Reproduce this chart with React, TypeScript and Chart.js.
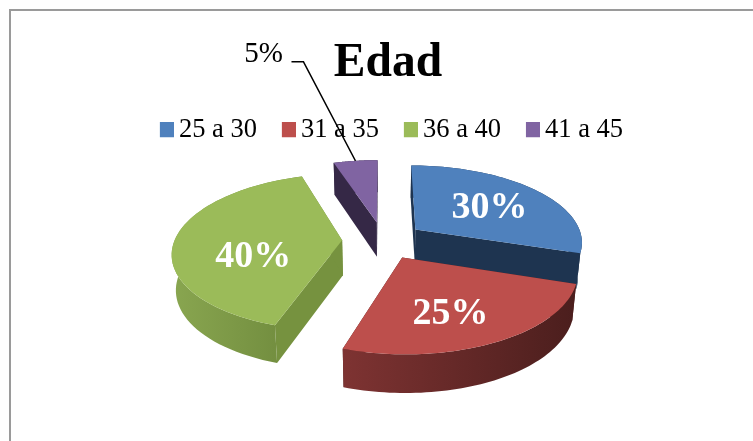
import React, { useEffect, useRef } from "react";
import { Chart, registerables } from "chart.js";

Chart.register(...registerables);

const categories = ["25 a 30", "31 a 35", "36 a 40", "41 a 45"];
const percentages = [30, 25, 40, 5];
const chartTitle = "Edad";

const topColors = ["#4f81bd", "#bd4f4c", "#9bbb59", "#8064a2"];
const faceColors = ["#1e3450", "#4e1f1e", "#76923f", "#352846"];
const wallEdgeColors = [
  ["#1e3450", "#1e3450"],
  ["#7e3332", "#4b1e1d"],
  ["#89a650", "#6e893c"],
  ["#352846", "#352846"],
];
const drawOrder = [3, 0, 2, 1];
const labelRadius = [0.6, 0.55, 0.53, 0];
const labelDrop = [3, 13, 17, 0];

const SERIF = '"Liberation Serif", "Times New Roman", serif';
const EXPLODE = 0.244;
const SQUASH_X = 168 / 87;
const SQUASH_Y = 76.8 / 87;
const PERSPECTIVE = 0.15;
const DEPTH = 35;
const SHIFT_X = -8.5;

function legendSwatch(color: string) {
  const c = document.createElement("canvas");
  c.width = 22;
  c.height = 16;
  const g = c.getContext("2d")!;
  g.fillStyle = color;
  g.fillRect(8, 0, 14, 15);
  return c;
}

const pie3d = {
  id: "pie3d",
  afterLayout(chart: any) {
    chart.titleBlock.left -= 3.5;
    chart.titleBlock.right -= 3.5;
  },
  beforeDatasetDraw(chart: any) {
    const ctx: CanvasRenderingContext2D = chart.ctx;
    const arcs = chart.getDatasetMeta(0).data;
    if (!arcs.length) return false;
    const R = arcs[0].outerRadius;
    const cx = arcs[0].x + SHIFT_X;
    const cy = arcs[0].y;
    const ax = R * SQUASH_X;
    const by = R * SQUASH_Y;

    const proj = (u: number, v: number, z: number) => {
      const w = 1 - PERSPECTIVE * v;
      return [
        cx + ((ax * u) / w) * (1 - 0.02 * z),
        cy + (by * v) / w + (z * DEPTH) / Math.sqrt(w),
      ];
    };

    const poly = (pts: number[][], fill: any) => {
      ctx.beginPath();
      pts.forEach((p, i) => (i ? ctx.lineTo(p[0], p[1]) : ctx.moveTo(p[0], p[1])));
      ctx.closePath();
      ctx.fillStyle = fill;
      ctx.fill();
    };

    drawOrder.forEach((i) => {
      const arc = arcs[i];
      const t0 = arc.startAngle + Math.PI / 2;
      const t1 = arc.endAngle + Math.PI / 2;
      const tm = (t0 + t1) / 2;
      const ou = EXPLODE * Math.sin(tm);
      const ov = -EXPLODE * Math.cos(tm);
      const at = (t: number, z: number) => proj(ou + Math.sin(t), ov - Math.cos(t), z);
      const apex = (z: number) => proj(ou, ov, z);
      const steps = 60;
      const ang = (k: number) => t0 + ((t1 - t0) * k) / steps;

      poly([apex(0), at(t0, 0), at(t0, 1), apex(1)], faceColors[i]);
      poly([apex(0), at(t1, 0), at(t1, 1), apex(1)], faceColors[i]);

      const wall: number[][] = [];
      for (let k = 0; k <= steps; k++) wall.push(at(ang(k), 0));
      for (let k = steps; k >= 0; k--) wall.push(at(ang(k), 1));
      const xs = wall.map((p) => p[0]);
      const gr = ctx.createLinearGradient(Math.min(...xs), 0, Math.max(...xs), 0);
      gr.addColorStop(0, wallEdgeColors[i][0]);
      gr.addColorStop(1, wallEdgeColors[i][1]);
      poly(wall, gr);

      const top: number[][] = [apex(0)];
      for (let k = 0; k <= steps; k++) top.push(at(ang(k), 0));
      poly(top, topColors[i]);
    });

    ctx.save();
    ctx.fillStyle = "#ffffff";
    ctx.font = `bold 38px ${SERIF}`;
    ctx.textAlign = "center";
    ctx.textBaseline = "middle";
    arcs.forEach((arc: any, i: number) => {
      if (!labelRadius[i]) return;
      const tm = (arc.startAngle + arc.endAngle) / 2 + Math.PI / 2;
      const r = EXPLODE + labelRadius[i];
      const p = proj(r * Math.sin(tm), -r * Math.cos(tm), 0);
      ctx.fillText(`${percentages[i]}%`, p[0], p[1] + labelDrop[i]);
    });

    // leader for the small slice, running from its outer rim to its label
    const small = arcs[3];
    const tm = (small.startAngle + small.endAngle) / 2 + Math.PI / 2;
    const r = EXPLODE + 1;
    const rim = proj(r * Math.sin(tm), -r * Math.cos(tm), 0);
    const elbowX = rim[0] - 52;
    const elbowY = rim[1] - 99;
    ctx.strokeStyle = "#000000";
    ctx.lineWidth = 1.4;
    ctx.beginPath();
    ctx.moveTo(rim[0], rim[1]);
    ctx.lineTo(elbowX, elbowY);
    ctx.lineTo(elbowX - 12, elbowY);
    ctx.stroke();
    ctx.fillStyle = "#000000";
    ctx.font = `29px ${SERIF}`;
    ctx.fillText(`${percentages[3]}%`, elbowX - 40, elbowY - 7);
    ctx.restore();
    return false;
  },
};

const frame = {
  id: "frame",
  beforeDraw(chart: any) {
    const { ctx, width, height } = chart;
    ctx.save();
    ctx.strokeStyle = "#9a9a9a";
    ctx.lineWidth = 2;
    ctx.beginPath();
    ctx.moveTo(10, height);
    ctx.lineTo(10, 10);
    ctx.lineTo(width, 10);
    ctx.stroke();
    ctx.restore();
  },
};

export default function App() {
  const ref = useRef<HTMLCanvasElement>(null);
  useEffect(() => {
    document.body.style.margin = "0";
    const chart = new Chart(ref.current!, {
      type: "pie",
      data: {
        labels: categories,
        datasets: [{ data: percentages, backgroundColor: topColors, borderWidth: 0 }],
      },
      options: {
        responsive: false,
        animation: false,
        layout: { padding: { left: 30, top: 30, bottom: 114 } },
        plugins: {
          tooltip: { enabled: false },
          title: {
            display: true,
            text: chartTitle,
            color: "#000000",
            font: { family: SERIF, size: 47.5, weight: "bold" },
            padding: { top: 5, bottom: 0 },
          },
          legend: {
            position: "top",
            labels: {
              color: "#000000",
              font: { family: SERIF, size: 26.5 },
              usePointStyle: true,
              pointStyleWidth: 5.75,
              padding: 25,
              generateLabels: () =>
                categories.map((text, i) => ({
                  text,
                  index: i,
                  datasetIndex: 0,
                  fillStyle: topColors[i],
                  strokeStyle: topColors[i],
                  lineWidth: 0,
                  pointStyle: legendSwatch(topColors[i]),
                })),
            },
          },
        },
      } as any,
      plugins: [frame, pie3d],
    });
    return () => chart.destroy();
  }, []);
  return <canvas ref={ref} width={753} height={441} style={{ display: "block" }} />;
}
